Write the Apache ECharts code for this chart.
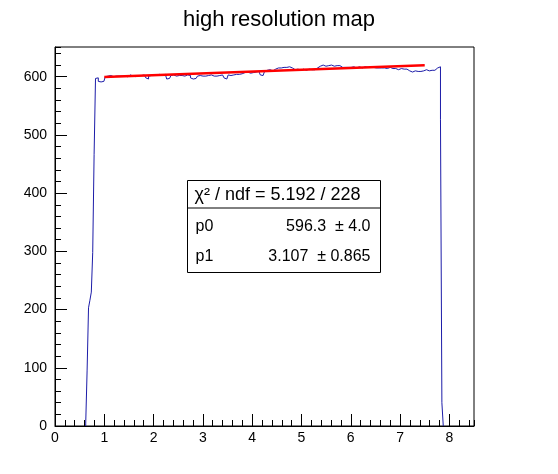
<!DOCTYPE html>
<html>
<head>
<meta charset="utf-8">
<script src="https://cdn.jsdelivr.net/npm/echarts@6/dist/echarts.min.js"></script>
<style>
  html, body { margin: 0; padding: 0; background: #fff; }
  #chart-container { width: 558px; height: 474px; }
</style>
</head>
<body>
<div id="chart-container"></div>
<script>
// histogram: 300 bins from 0 to 8.5
var xMin = 0;
var xMax = 8.5;
var binCounts = [
  0, 0, 0, 0, 0, 0, 0, 0, 0, 0,
  0, 0, 0, 0, 0, 0, 0, 0, 0, 0,
  0, 0, 5, 96, 203, 216, 230, 298, 466, 597,
  598, 592, 591, 593, 592, 594, 600, 601, 600, 602,
  601, 600, 602, 601, 603, 601, 600, 601, 602, 601,
  602, 600, 601, 603, 602, 601, 602, 600, 601, 602,
  603, 602, 601, 603, 602, 598, 596, 601, 602, 603,
  602, 601, 603, 602, 604, 603, 602, 603, 604, 602,
  596, 597, 599, 602, 603, 602, 601, 603, 602, 601,
  602, 603, 601, 602, 603, 601, 602, 598, 596, 595,
  597, 599, 601, 602, 600, 601, 602, 601, 600, 602,
  601, 603, 600, 601, 602, 601, 600, 602, 601, 603,
  601, 598, 596, 597, 603, 602, 604, 603, 602, 604,
  603, 604, 602, 605, 606, 607, 606, 608, 607, 606,
  608, 607, 606, 608, 607, 609, 606, 603, 602, 604,
  609, 611, 610, 612, 611, 610, 612, 613, 614, 615,
  616, 615, 617, 616, 617, 616, 615, 617, 616, 615,
  614, 612, 611, 613, 612, 611, 612, 613, 612, 611,
  612, 613, 611, 612, 613, 612, 614, 615, 617, 618,
  619, 620, 619, 618, 620, 619, 621, 620, 619, 618,
  620, 619, 618, 619, 617, 616, 617, 616, 615, 616,
  617, 616, 615, 617, 616, 615, 616, 617, 616, 615,
  616, 617, 615, 616, 617, 616, 615, 616, 617, 615,
  614, 615, 616, 615, 614, 615, 616, 614, 615, 616,
  615, 614, 613, 614, 613, 612, 613, 614, 612, 613,
  612, 613, 611, 610, 609, 608, 609, 610, 608, 609,
  610, 609, 611, 610, 611, 612, 611, 610, 612, 611,
  612, 611, 614, 615, 616, 617, 527, 40, 0, 0,
  0, 0, 0, 0, 0, 0, 0, 0, 0, 0,
  0, 0, 0, 0, 0, 0, 0, 0, 0, 0
];

// pol1 fit
var fitRange = [1, 7.5];
var p0 = 596.3, p0Err = 4.0;
var p1 = 3.107, p1Err = 0.865;
var chi2 = 5.192, ndf = 228;

var xTicks = [0, 1, 2, 3, 4, 5, 6, 7, 8];
var yTicks = [0, 100, 200, 300, 400, 500, 600];
var yMax = 651;

var binWidth = (xMax - xMin) / binCounts.length;
var first = 0, last = binCounts.length - 1;
while (binCounts[first] === 0) first++;
while (binCounts[last] === 0) last--;

var histPoints = [[xMin + first * binWidth, 0]];
for (var k = first; k <= last; k++) {
  histPoints.push([xMin + k * binWidth, binCounts[k]]);
}
histPoints.push([xMin + (last + 1) * binWidth, 0]);

var fitPoints = fitRange.map(function (x) { return [x, p0 + p1 * x]; });

var font = 'Liberation Sans';
var myChart = echarts.init(document.getElementById('chart-container'));

var tickLabel = { color: '#000', fontFamily: font, fontSize: 14, showMaxLabel: false };

var option = {
  animation: false,
  backgroundColor: '#fff',
  title: {
    text: 'high resolution map',
    left: 'center',
    top: 4,
    textStyle: { color: '#000', fontFamily: font, fontSize: 22, fontWeight: 'normal' }
  },
  grid: {
    left: 55, right: 84, top: 47, bottom: 48,
    show: true, borderColor: '#000', borderWidth: 1, backgroundColor: 'transparent'
  },
  xAxis: [
    {
      type: 'value', min: xMin, max: xMax, interval: 1, position: 'bottom',
      axisLine: { lineStyle: { color: '#000', width: 1 } },
      axisTick: { inside: true, length: 12, lineStyle: { color: '#000' } },
      axisLabel: Object.assign({ margin: 5, formatter: function (v) { return xTicks.indexOf(v) >= 0 ? String(v) : ''; } }, tickLabel),
      splitLine: { show: false }
    },
    {
      type: 'value', min: xMin, max: xMax, interval: 0.2, position: 'bottom',
      axisLine: { show: false },
      axisTick: { inside: true, length: 6, lineStyle: { color: '#000' } },
      axisLabel: { show: false },
      splitLine: { show: false }
    }
  ],
  yAxis: [
    {
      type: 'value', min: 0, max: yMax, interval: 100, position: 'left',
      axisLine: { show: true, lineStyle: { color: '#000', width: 1 } },
      axisTick: { show: true, inside: true, length: 12, lineStyle: { color: '#000' } },
      axisLabel: Object.assign({ margin: 8, formatter: function (v) { return yTicks.indexOf(v) >= 0 ? String(v) : ''; } }, tickLabel),
      splitLine: { show: false }
    },
    {
      type: 'value', min: 0, max: yMax, interval: 20, position: 'left',
      axisLine: { show: false },
      axisTick: { show: true, inside: true, length: 6, lineStyle: { color: '#000' } },
      axisLabel: { show: false },
      splitLine: { show: false }
    }
  ],
  series: [
    {
      name: 'hist',
      type: 'line',
      step: 'end',
      data: histPoints,
      showSymbol: false,
      lineStyle: { color: '#1c1ca8', width: 1 },
      z: 2
    },
    {
      name: 'fit',
      type: 'line',
      data: fitPoints,
      showSymbol: false,
      lineStyle: { color: '#ff0000', width: 2.5 },
      z: 3
    }
  ],
  graphic: [
    {
      type: 'group', left: 185, top: 180, z: 100,
      children: [
        { type: 'rect', shape: { x: 0, y: 0, width: 193, height: 92 },
          style: { fill: '#fff', stroke: '#000', lineWidth: 1 } },
        { type: 'line', shape: { x1: 0, y1: 27.5, x2: 193, y2: 27.5 },
          style: { stroke: '#000', lineWidth: 1 } },
        { type: 'text', x: 7, y: 15,
          style: { text: 'χ² / ndf = ' + chi2.toFixed(3) + ' / ' + ndf, fill: '#000',
                   font: '18px ' + font, verticalAlign: 'middle' } },
        { type: 'text', x: 8, y: 46,
          style: { text: 'p0', fill: '#000', font: '16px ' + font, verticalAlign: 'middle' } },
        { type: 'text', x: 183, y: 46,
          style: { text: p0.toFixed(1) + '  ± ' + p0Err.toFixed(1), fill: '#000',
                   font: '16px ' + font, align: 'right', verticalAlign: 'middle' } },
        { type: 'text', x: 8, y: 76,
          style: { text: 'p1', fill: '#000', font: '16px ' + font, verticalAlign: 'middle' } },
        { type: 'text', x: 183, y: 76,
          style: { text: p1.toFixed(3) + '  ± ' + p1Err.toFixed(3), fill: '#000',
                   font: '16px ' + font, align: 'right', verticalAlign: 'middle' } }
      ]
    }
  ]
};

myChart.setOption(option);
</script>
</body>
</html>
